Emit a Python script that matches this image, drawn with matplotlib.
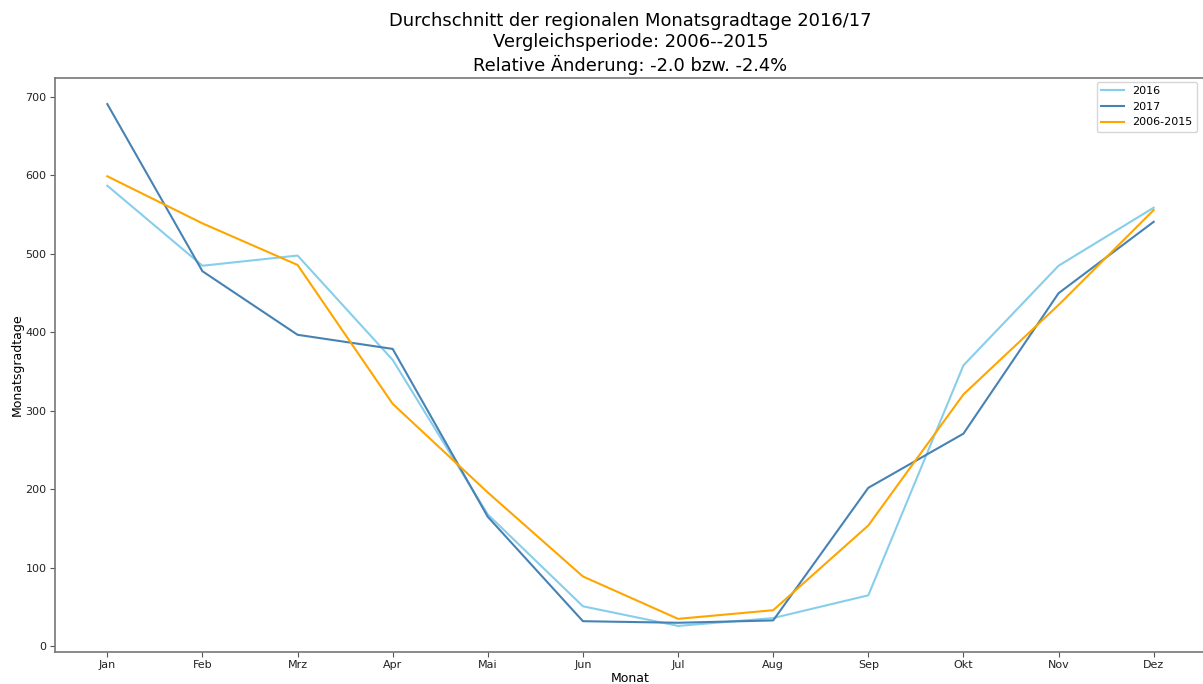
import matplotlib.pyplot as plt

# ----------------------------------------
# Data
# ----------------------------------------
months = ["Jan", "Feb", "Mrz", "Apr", "Mai", "Jun", "Jul", "Aug", "Sep", "Okt", "Nov", "Dez"]
gt_2016 = [587, 485, 498, 365, 168, 51, 26, 36, 65, 358, 485, 559]
gt_2017 = [691, 478, 397, 379, 165, 32, 30, 33, 202, 271, 450, 541]
gt_ref = [599, 539, 486, 309, 196, 89, 35, 46, 154, 321, 435, 556]

# ----------------------------------------
# Plot
# ----------------------------------------
fig = plt.figure(figsize=(12.03, 6.84), dpi=100)
ax = fig.add_axes([55 / 1203, 1 - 652 / 684, 1151 / 1203, 574 / 684])

x = range(len(months))
ax.plot(x, gt_2016, color="skyblue", lw=1.5, label="2016")
ax.plot(x, gt_2017, color="steelblue", lw=1.5, label="2017")
ax.plot(x, gt_ref, color="orange", lw=1.5, label="2006-2015")

ax.set_xticks(list(x))
ax.set_xticklabels(months)
ax.tick_params(labelsize=8, colors="#222222", pad=2.5)
ax.tick_params(axis="both", color="#555555")
for s in ax.spines.values():
    s.set_color("#777777")
    s.set_linewidth(1.2)

ax.set_xlabel("Monat", fontsize=9, labelpad=1)
ax.set_ylabel("Monatsgradtage", fontsize=9, labelpad=1)
ax.set_title("Durchschnitt der regionalen Monatsgradtage 2016/17\n"
             "Vergleichsperiode: 2006--2015\n"
             "Relative Änderung: -2.0 bzw. -2.4%", fontsize=12.9, linespacing=1.22, pad=5)

# legend sits near the right edge of the picture (axes run a bit past it)
ax.legend(loc="upper right", bbox_to_anchor=((1201 - 55) / 1151, 1.0), fontsize=8,
          borderaxespad=0.35)

plt.savefig("out.png", dpi=100)
